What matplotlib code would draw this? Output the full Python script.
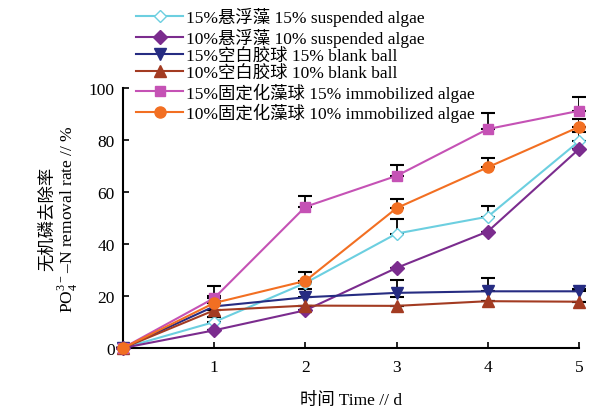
import matplotlib
matplotlib.use("Agg")
import matplotlib.pyplot as plt
import numpy as np

plt.rcParams['font.family'] = ['Liberation Serif', 'Noto Sans CJK SC']
plt.rcParams['mathtext.fontset'] = 'custom'
plt.rcParams['mathtext.rm'] = 'Liberation Serif'

days = [0, 1, 2, 3, 4, 5]

labels = [
    "15%悬浮藻 15% suspended algae",
    "10%悬浮藻 10% suspended algae",
    "15%空白胶球 15% blank ball",
    "10%空白胶球 10% blank ball",
    "15%固定化藻球 15% immobilized algae",
    "10%固定化藻球 10% immobilized algae",
]

susp15 = [0, 10.0, 25.0, 44.0, 50.5, 79.5]
susp10 = [0, 6.8, 14.5, 30.8, 44.8, 76.5]
blank15 = [0, 16.0, 19.5, 21.2, 21.8, 21.8]
blank10 = [0, 14.5, 16.3, 16.2, 18.0, 17.8]
immo15 = [0, 19.2, 54.3, 66.2, 84.2, 91.2]
immo10 = [0, 17.3, 25.8, 53.8, 69.5, 85.0]

susp15_err = [0, 2.0, 0, 5.5, 4.0, 3.5]
susp10_err = [0, 0, 0, 0, 0, 0]
blank15_err = [0, 4.0, 3.0, 5.0, 5.0, 1.0]
blank15_err_lo = [0, 4.0, 0, 1.5, 0, 0]
blank10_err = [0, 0, 0, 0, 0, 0]
immo15_err = [0, 4.5, 4.2, 4.2, 6.2, 5.5]
immo10_err = [0, 0, 3.6, 3.4, 3.4, 3.2]

colors = ['#6ccfe0', '#7b2c8e', '#262c82', '#a33b22', '#c552b5', '#f26f22']
markers = ['D', 'D', 'v', '^', 's', 'o']
mfc = ['white', '#7b2c8e', '#262c82', '#a33b22', '#c552b5', '#f26f22']
msizes = [6, 7, 8, 8, 7, 8]

series = [susp15, susp10, blank15, blank10, immo15, immo10]
errs_hi = [susp15_err, susp10_err, blank15_err, blank10_err, immo15_err, immo10_err]
errs_lo = [[0] * 6, [0] * 6, blank15_err_lo, [0] * 6, [0] * 6, [0] * 6]

fig = plt.figure(figsize=(6.13, 4.10), dpi=100)
ax = fig.add_axes([0.2007, 0.1488, 0.7438, 0.6342])

handles = []
for y, lo, hi in zip(series, errs_lo, errs_hi):
    ax.errorbar(days, y, yerr=[lo, hi], fmt='none', ecolor='black',
                elinewidth=1.3, capsize=5, capthick=1.5, zorder=2)
for y, c, m, fc, ms, lab in zip(series, colors, markers, mfc, msizes, labels):
    h, = ax.plot(days, y, color=c, marker=m, markerfacecolor=fc, markeredgecolor=c,
                 markersize=ms, linewidth=1.5, label=lab, zorder=3)
    handles.append(h)

ax.set_xlim(0, 5)
ax.set_ylim(0, 100)
ax.set_xticks([1, 2, 3, 4, 5])
ax.set_yticks([0, 20, 40, 60, 80, 100])
ax.spines['top'].set_visible(False)
ax.spines['right'].set_visible(False)
ax.spines['left'].set_linewidth(1.5)
ax.spines['bottom'].set_linewidth(1.5)
ax.tick_params(direction='in', length=4, width=1.2, labelsize=12.5)
ax.tick_params(axis='y', pad=6)
ax.tick_params(axis='x', pad=8)
for l in ax.lines:
    l.set_clip_on(False)

ax.set_xlabel("时间 Time // d", fontsize=12.5, labelpad=12)
ax.set_ylabel("无机磷去除率\nPO$_4^{3-}$–N removal rate // %", fontsize=12.5, labelpad=6,
              linespacing=1.0)

fig.legend(handles=handles, loc='upper left', bbox_to_anchor=(0.205, 1.005),
           frameon=False, fontsize=12.5, handlelength=2.7, handletextpad=0.2,
           labelspacing=0.06, borderpad=0.1)

fig.savefig("out.png", dpi=100)
